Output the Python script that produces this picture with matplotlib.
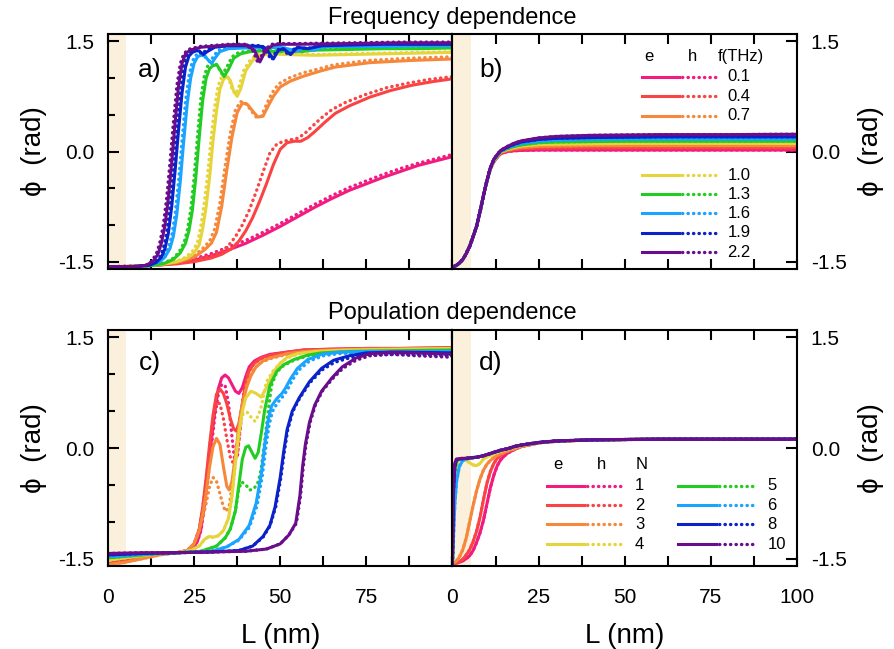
import numpy as np
import matplotlib
matplotlib.use("Agg")
import matplotlib.pyplot as plt

plt.rcParams['font.family'] = ['Liberation Sans', 'DejaVu Sans']
plt.rcParams['axes.unicode_minus'] = False

freqs = ['0.1', '0.4', '0.7', '1.0', '1.3', '1.6', '1.9', '2.2']
pops = ['1', '2', '3', '4', '5', '6', '8', '10']
colors = ['#f21b7f', '#fa4343', '#f5883a', '#e6d43c', '#22cc22', '#1aa3ff', '#0a22c8', '#6a0d8c']

# ---- a) frequency dependence, electrons (solid) ----
a_e_L = [
    [0, 5, 10, 15, 20, 25, 30, 35, 40, 45, 50, 55, 60, 65, 70, 75, 80, 85, 90, 95, 100],
    [0, 10, 20, 25, 30, 33, 36, 38, 40, 42, 44, 46, 48, 50, 52, 54, 56, 58, 60, 63, 66, 70, 76, 82, 88, 94, 100],
    [0, 10, 15, 20, 25, 28, 30, 31.5, 33, 34.5, 36, 37.5, 39, 40.5, 42, 43.5, 45, 46.5, 48, 50, 53, 57, 62, 66, 76, 88, 100],
    [0, 10, 15, 20, 23, 25, 26.5, 27.5, 28.5, 29.5, 30.5, 31.5, 32.5, 33.5, 34.5, 35.5, 36.5, 37.5, 38.5, 40, 42, 44, 47, 52, 60, 70, 80, 90, 100],
    [0, 8, 12, 16, 19, 21, 22.5, 23.5, 24.5, 25.5, 26.5, 27.5, 28.5, 29.5, 30.5, 31.6, 32.7, 33.7, 35, 36.5, 38.5, 41.3, 45, 50, 53, 56, 60, 70, 80, 90, 100],
    [0, 8, 12, 15, 16.5, 18, 19, 20, 21, 22, 23, 24, 25, 26, 27, 28.2, 29, 30.1, 31.2, 32.5, 35, 40, 45, 50, 55, 57, 60, 62, 65, 70, 80, 90, 100],
    [0, 8, 12, 14, 15.5, 16.5, 17.5, 18.5, 19.5, 20.5, 21.5, 22.5, 23.5, 24.5, 25.5, 26.5, 27.7, 28.8, 31, 35, 40, 45, 46.5, 48, 49.5, 51, 53, 55, 58, 62, 70, 80, 100],
    [0, 8, 11, 13, 14.5, 15.5, 16.5, 17.5, 18.5, 19.5, 20.5, 21.5, 22.5, 23.8, 27, 35, 40, 42.5, 44.1, 45.8, 48, 50, 55, 70, 85, 100],
]
a_e_phi = [
    [-1.57, -1.57, -1.56, -1.545, -1.52, -1.48, -1.42, -1.34, -1.25, -1.14, -1.02, -0.89, -0.76, -0.64, -0.53, -0.44, -0.35, -0.27, -0.19, -0.13, -0.07],
    [-1.57, -1.56, -1.53, -1.50, -1.45, -1.40, -1.32, -1.22, -1.08, -0.90, -0.68, -0.44, -0.18, 0.03, 0.12, 0.14, 0.14, 0.19, 0.27, 0.40, 0.52, 0.62, 0.74, 0.83, 0.90, 0.95, 0.99],
    [-1.57, -1.56, -1.54, -1.51, -1.44, -1.34, -1.25, -1.10, -0.75, -0.25, 0.20, 0.53, 0.66, 0.64, 0.55, 0.47, 0.48, 0.62, 0.75, 0.88, 0.96, 1.03, 1.10, 1.15, 1.21, 1.24, 1.26],
    [-1.57, -1.56, -1.54, -1.50, -1.45, -1.38, -1.27, -1.05, -0.75, -0.35, 0.15, 0.55, 0.85, 0.98, 1.02, 0.97, 0.82, 0.75, 0.85, 1.10, 1.24, 1.31, 1.33, 1.32, 1.31, 1.32, 1.33, 1.34, 1.35],
    [-1.57, -1.565, -1.555, -1.53, -1.47, -1.38, -1.25, -1.08, -0.80, -0.35, 0.20, 0.70, 1.00, 1.13, 1.17, 1.18, 1.10, 1.02, 1.12, 1.27, 1.33, 1.36, 1.37, 1.36, 1.38, 1.36, 1.38, 1.39, 1.40, 1.40, 1.41],
    [-1.57, -1.565, -1.55, -1.50, -1.44, -1.32, -1.15, -0.85, -0.40, 0.15, 0.65, 1.00, 1.20, 1.29, 1.31, 1.30, 1.25, 1.20, 1.28, 1.36, 1.40, 1.41, 1.41, 1.42, 1.37, 1.41, 1.38, 1.42, 1.43, 1.43, 1.43, 1.44, 1.44],
    [-1.57, -1.565, -1.55, -1.51, -1.44, -1.33, -1.12, -0.75, -0.25, 0.30, 0.80, 1.15, 1.30, 1.35, 1.37, 1.37, 1.32, 1.36, 1.42, 1.44, 1.44, 1.43, 1.36, 1.26, 1.38, 1.40, 1.32, 1.42, 1.40, 1.44, 1.45, 1.46, 1.46],
    [-1.57, -1.565, -1.55, -1.50, -1.40, -1.25, -1.02, -0.65, -0.15, 0.40, 0.90, 1.20, 1.33, 1.38, 1.42, 1.45, 1.45, 1.38, 1.22, 1.38, 1.45, 1.46, 1.46, 1.47, 1.48, 1.48],
]
# ---- a) holes (dotted) ----
a_h_L = [
    [0, 5, 10, 15, 20, 25, 30, 35, 40, 45, 50, 55, 60, 65, 70, 75, 80, 85, 90, 95, 100],
    [0, 10, 20, 25, 30, 33, 35, 37, 39, 41, 43, 45, 47, 49, 51, 53, 55, 57, 59, 62, 65, 69, 75, 81, 87, 93, 100],
    [0, 10, 15, 20, 25, 27.5, 29.5, 31, 32.5, 34, 35.5, 37, 38.5, 40, 41.5, 43, 44.5, 46, 47.5, 49.5, 52.5, 56.5, 61.5, 65.5, 75.5, 87.5, 100],
    [0, 10, 15, 20, 22.5, 24.5, 26, 27, 28, 29, 30, 31, 32, 33, 34, 35, 36, 37, 38, 39.5, 41.5, 43.5, 46.5, 52, 60, 70, 80, 90, 100],
    [0, 8, 12, 15.5, 18.5, 20.5, 22, 23, 24, 25, 26, 27, 28, 29, 30, 31.1, 32.2, 33.2, 34.5, 36, 38, 41, 45, 50, 53, 56, 60, 70, 80, 90, 100],
    [0, 8, 12, 14.5, 16, 17.5, 18.5, 19.5, 20.5, 21.5, 22.5, 23.5, 24.5, 25.5, 26.5, 27.7, 28.5, 29.6, 30.7, 32, 34.5, 40, 45, 50, 54.5, 56.5, 59.5, 61.5, 65, 70, 80, 90, 100],
    [0, 8, 11.5, 13.5, 15, 16, 17, 18, 19, 20, 21, 22, 23, 24, 25, 26, 27.2, 28.3, 30.5, 35, 40, 44.5, 46, 47.5, 49, 50.5, 52.5, 54.5, 57.5, 61.5, 70, 80, 100],
    [0, 8, 11, 12.5, 14, 15, 16, 17, 18, 19, 20, 21, 22, 23.3, 26.5, 35, 40, 42, 43.6, 45.3, 47.5, 50, 55, 70, 85, 100],
]
a_h_phi = [
    [-1.57, -1.565, -1.555, -1.535, -1.505, -1.46, -1.39, -1.30, -1.21, -1.10, -0.98, -0.85, -0.72, -0.60, -0.49, -0.40, -0.31, -0.23, -0.16, -0.10, -0.04],
    [-1.57, -1.555, -1.52, -1.48, -1.42, -1.36, -1.28, -1.16, -1.00, -0.80, -0.55, -0.28, -0.02, 0.10, 0.14, 0.16, 0.18, 0.24, 0.33, 0.46, 0.57, 0.67, 0.78, 0.87, 0.93, 0.98, 1.02],
    [-1.57, -1.555, -1.535, -1.50, -1.42, -1.32, -1.22, -1.05, -0.70, -0.20, 0.25, 0.57, 0.68, 0.66, 0.56, 0.47, 0.48, 0.64, 0.79, 0.92, 1.00, 1.07, 1.13, 1.18, 1.24, 1.27, 1.29],
    [-1.57, -1.555, -1.535, -1.49, -1.44, -1.36, -1.24, -1.00, -0.68, -0.28, 0.22, 0.62, 0.90, 1.02, 1.06, 1.00, 0.85, 0.78, 0.88, 1.12, 1.26, 1.32, 1.34, 1.33, 1.32, 1.33, 1.34, 1.35, 1.36],
    [-1.57, -1.565, -1.555, -1.53, -1.47, -1.38, -1.25, -1.08, -0.80, -0.35, 0.22, 0.74, 1.04, 1.17, 1.20, 1.21, 1.13, 1.05, 1.15, 1.29, 1.35, 1.37, 1.38, 1.37, 1.39, 1.37, 1.39, 1.40, 1.41, 1.41, 1.42],
    [-1.57, -1.565, -1.55, -1.50, -1.44, -1.32, -1.15, -0.85, -0.40, 0.15, 0.68, 1.03, 1.23, 1.31, 1.33, 1.32, 1.27, 1.22, 1.30, 1.38, 1.41, 1.42, 1.42, 1.43, 1.36, 1.42, 1.37, 1.43, 1.44, 1.44, 1.44, 1.45, 1.45],
    [-1.57, -1.565, -1.55, -1.51, -1.44, -1.33, -1.12, -0.75, -0.25, 0.30, 0.82, 1.17, 1.32, 1.36, 1.38, 1.38, 1.33, 1.37, 1.43, 1.45, 1.45, 1.44, 1.35, 1.25, 1.38, 1.41, 1.31, 1.42, 1.40, 1.44, 1.46, 1.47, 1.47],
    [-1.57, -1.565, -1.55, -1.50, -1.40, -1.25, -1.02, -0.65, -0.15, 0.40, 0.90, 1.20, 1.33, 1.39, 1.43, 1.46, 1.46, 1.38, 1.20, 1.38, 1.46, 1.47, 1.47, 1.48, 1.49, 1.49],
]

# ---- b) frequency dependence, second case (e and h overlap) ----
b_L = [0, 1, 2, 3, 4, 5, 6, 7, 8, 9, 10, 11, 12, 13, 14, 16, 18, 20, 25, 30, 40, 50, 60, 70, 80, 90, 100]
b_e_phi = [
    [-1.57, -1.555, -1.52, -1.47, -1.39, -1.29, -1.16, -1.02, -0.82, -0.60, -0.40, -0.24, -0.14, -0.08, -0.03, 0.0, 0.01, 0.015, 0.02, 0.02, 0.02, 0.02, 0.02, 0.02, 0.02, 0.02, 0.02],
    [-1.57, -1.555, -1.52, -1.47, -1.39, -1.29, -1.16, -1.02, -0.82, -0.60, -0.40, -0.24, -0.135, -0.075, -0.02, 0.01, 0.025, 0.035, 0.045, 0.05, 0.05, 0.05, 0.05, 0.05, 0.05, 0.05, 0.05],
    [-1.57, -1.555, -1.52, -1.47, -1.39, -1.29, -1.16, -1.02, -0.82, -0.60, -0.40, -0.24, -0.13, -0.07, -0.01, 0.02, 0.04, 0.055, 0.07, 0.075, 0.08, 0.08, 0.08, 0.08, 0.08, 0.08, 0.08],
    [-1.57, -1.555, -1.52, -1.47, -1.39, -1.29, -1.16, -1.02, -0.82, -0.60, -0.40, -0.235, -0.125, -0.065, -0.005, 0.03, 0.055, 0.075, 0.095, 0.10, 0.105, 0.11, 0.11, 0.11, 0.11, 0.11, 0.11],
    [-1.57, -1.555, -1.52, -1.47, -1.39, -1.29, -1.16, -1.02, -0.82, -0.60, -0.40, -0.23, -0.12, -0.06, 0.0, 0.04, 0.07, 0.09, 0.12, 0.13, 0.135, 0.14, 0.14, 0.14, 0.14, 0.14, 0.14],
    [-1.57, -1.555, -1.52, -1.47, -1.39, -1.29, -1.16, -1.02, -0.82, -0.60, -0.40, -0.23, -0.115, -0.05, 0.005, 0.05, 0.085, 0.11, 0.14, 0.155, 0.165, 0.17, 0.17, 0.17, 0.17, 0.17, 0.17],
    [-1.57, -1.555, -1.52, -1.47, -1.39, -1.29, -1.16, -1.02, -0.82, -0.60, -0.40, -0.225, -0.11, -0.045, 0.01, 0.06, 0.10, 0.13, 0.165, 0.18, 0.19, 0.195, 0.20, 0.20, 0.20, 0.20, 0.20],
    [-1.57, -1.555, -1.52, -1.47, -1.39, -1.29, -1.16, -1.02, -0.82, -0.60, -0.40, -0.22, -0.105, -0.04, 0.015, 0.07, 0.115, 0.145, 0.185, 0.205, 0.22, 0.225, 0.23, 0.23, 0.23, 0.233, 0.235],
]
b_h_phi = b_e_phi

# ---- c) population dependence, electrons ----
c_e_L = [
    [0, 5, 10, 15, 20, 23, 25, 26, 27, 28, 29, 30, 31, 32, 33, 34, 35, 36, 37, 38, 39, 40, 41, 42.5, 44.5, 47, 52, 57, 65, 75, 85, 100],
    [0, 5, 10, 15, 20, 23, 25, 26.5, 27.5, 28.5, 29.5, 30.5, 31.5, 32.5, 33.5, 34.5, 35.5, 36.5, 37.2, 38, 39, 40, 41, 42.5, 44.5, 47, 52, 57, 65, 75, 85, 100],
    [0, 5, 10, 15, 20, 23, 25, 26.5, 27.5, 28.5, 29.5, 30.5, 31.5, 32.5, 33.5, 34.5, 35.2, 36, 37, 38, 39, 40.3, 41.5, 43, 45, 47, 52, 57, 65, 75, 85, 100],
    [0, 5, 10, 15, 20, 24, 26.5, 28, 29.3, 30.5, 32, 33.5, 35, 36, 37, 38, 39, 40, 41.5, 43, 44.5, 46, 48, 50, 52, 55, 60, 70, 85, 100],
    [0, 5, 10, 15, 20, 27, 31.5, 34, 35.5, 37, 38, 39, 40, 40.8, 41.8, 42.7, 43.6, 44.5, 45.5, 47, 49, 51, 54, 58, 62, 70, 85, 100],
    [0, 5, 10, 15, 20, 30, 34.5, 38, 41, 43, 44.5, 45.5, 46.5, 47.5, 49, 50.5, 51.5, 53, 55, 58, 62, 67, 75, 85, 100],
    [0, 10, 20, 30, 38, 42, 45, 47, 48.5, 50, 51, 52, 53.5, 55.5, 58.5, 62, 65.5, 70, 75, 85, 100],
    [0, 10, 20, 30, 40, 46, 50, 52.5, 54.5, 55.7, 56.5, 57.3, 58.5, 60, 62, 65, 68, 72, 76, 82, 90, 100],
]
c_e_phi = [
    [-1.57, -1.53, -1.48, -1.44, -1.42, -1.40, -1.34, -1.26, -1.10, -0.75, -0.35, 0.10, 0.50, 0.80, 0.95, 0.99, 0.95, 0.86, 0.77, 0.74, 0.82, 0.97, 1.10, 1.18, 1.23, 1.27, 1.30, 1.33, 1.34, 1.35, 1.35, 1.36],
    [-1.57, -1.52, -1.47, -1.43, -1.42, -1.39, -1.30, -1.10, -0.80, -0.40, 0.05, 0.45, 0.73, 0.80, 0.74, 0.60, 0.40, 0.26, 0.23, 0.33, 0.60, 0.88, 1.05, 1.15, 1.22, 1.26, 1.30, 1.33, 1.34, 1.35, 1.35, 1.36],
    [-1.58, -1.55, -1.50, -1.45, -1.42, -1.39, -1.30, -1.12, -0.90, -0.60, -0.25, 0.02, 0.13, 0.05, -0.25, -0.52, -0.57, -0.45, -0.10, 0.30, 0.60, 0.83, 0.98, 1.10, 1.18, 1.22, 1.28, 1.31, 1.33, 1.34, 1.34, 1.35],
    [-1.52, -1.49, -1.46, -1.43, -1.42, -1.39, -1.33, -1.24, -1.20, -1.21, -1.19, -1.12, -0.95, -0.65, -0.20, 0.20, 0.50, 0.68, 0.77, 0.74, 0.69, 0.82, 1.03, 1.15, 1.23, 1.28, 1.31, 1.33, 1.34, 1.35],
    [-1.49, -1.47, -1.45, -1.43, -1.42, -1.40, -1.33, -1.22, -1.10, -0.85, -0.50, -0.15, 0.01, 0.03, -0.06, -0.14, -0.06, 0.20, 0.52, 0.85, 1.04, 1.13, 1.20, 1.26, 1.29, 1.31, 1.32, 1.33],
    [-1.47, -1.46, -1.44, -1.43, -1.42, -1.40, -1.34, -1.24, -1.05, -0.75, -0.35, 0.05, 0.38, 0.57, 0.67, 0.74, 0.81, 0.94, 1.08, 1.20, 1.27, 1.30, 1.31, 1.31, 1.31],
    [-1.45, -1.43, -1.42, -1.41, -1.39, -1.33, -1.20, -1.05, -0.80, -0.40, -0.05, 0.25, 0.50, 0.68, 0.90, 1.08, 1.19, 1.25, 1.29, 1.30, 1.29],
    [-1.43, -1.42, -1.42, -1.41, -1.40, -1.37, -1.30, -1.18, -1.02, -0.65, -0.25, 0.05, 0.35, 0.58, 0.77, 0.95, 1.10, 1.22, 1.28, 1.30, 1.29, 1.27],
]
# ---- c) holes ----
c_h_L = [
    [0, 5, 10, 15, 20, 23, 25, 26, 27, 28, 29, 30, 31, 32, 33, 34, 35, 36, 36.8, 37.6, 38.5, 39.5, 40.5, 41.5, 43, 45, 48, 52, 57, 65, 75, 85, 100],
    [0, 5, 10, 15, 20, 23, 25, 26.5, 27.5, 28.5, 29.5, 30.5, 31.5, 32.5, 33.5, 34.5, 35.5, 36.5, 37.5, 38.5, 39.5, 40.5, 42, 44, 47, 52, 57, 65, 75, 85, 100],
    [0, 5, 10, 15, 20, 23, 25, 26.5, 27.5, 28.5, 29.5, 30.5, 31.5, 32.5, 33.5, 34.3, 35.2, 36.2, 37.2, 38.3, 39.5, 40.5, 42, 44, 47, 52, 57, 65, 75, 85, 100],
    [0, 5, 10, 15, 20, 24, 26.5, 28, 29.3, 30.5, 32, 33.5, 35, 36, 37, 38, 39, 40.3, 41.5, 42.7, 43.7, 44.6, 46, 48, 50, 52, 55, 60, 70, 85, 100],
    [0, 5, 10, 15, 20, 27, 31.5, 34, 35.5, 37, 38, 38.8, 40, 41.2, 42.4, 43.6, 44.4, 45.1, 45.9, 46.6, 47.5, 49, 51, 54, 58, 62, 70, 85, 100],
    [0, 5, 10, 15, 20, 30, 34.5, 38, 41, 43.3, 44.8, 45.8, 46.8, 47.8, 49.3, 50.8, 52, 53.5, 55.5, 58.5, 62.5, 67, 75, 85, 100],
    [0, 10, 20, 30, 38, 42, 45, 47, 48.7, 50.2, 51.2, 52.2, 53.7, 55.7, 58.7, 62.2, 65.7, 70, 75, 85, 100],
    [0, 10, 20, 30, 40, 46, 50, 52.5, 54.7, 55.9, 56.7, 57.5, 58.7, 60.2, 62.2, 65.2, 68.2, 72, 76, 82, 90, 100],
]
c_h_phi = [
    [-1.57, -1.53, -1.48, -1.44, -1.42, -1.40, -1.34, -1.26, -1.12, -0.80, -0.42, 0.02, 0.42, 0.72, 0.86, 0.85, 0.60, 0.15, -0.18, -0.10, 0.35, 0.80, 1.02, 1.12, 1.18, 1.23, 1.26, 1.29, 1.31, 1.32, 1.32, 1.31, 1.30],
    [-1.57, -1.52, -1.47, -1.43, -1.42, -1.39, -1.30, -1.10, -0.82, -0.45, -0.02, 0.38, 0.62, 0.60, 0.40, 0.12, -0.12, -0.22, -0.10, 0.30, 0.75, 1.00, 1.12, 1.20, 1.25, 1.29, 1.31, 1.32, 1.32, 1.31, 1.30],
    [-1.58, -1.55, -1.50, -1.45, -1.42, -1.39, -1.30, -1.12, -0.95, -0.75, -0.52, -0.40, -0.45, -0.62, -0.80, -0.86, -0.78, -0.45, -0.02, 0.38, 0.70, 0.90, 1.05, 1.15, 1.21, 1.27, 1.30, 1.32, 1.32, 1.31, 1.30],
    [-1.52, -1.49, -1.46, -1.43, -1.42, -1.39, -1.33, -1.24, -1.20, -1.21, -1.19, -1.12, -0.95, -0.65, -0.20, 0.20, 0.45, 0.49, 0.42, 0.36, 0.45, 0.58, 0.90, 1.05, 1.15, 1.22, 1.27, 1.30, 1.32, 1.32, 1.31],
    [-1.49, -1.47, -1.45, -1.43, -1.42, -1.40, -1.33, -1.22, -1.10, -0.85, -0.55, -0.46, -0.50, -0.57, -0.55, -0.46, -0.30, -0.05, 0.25, 0.54, 0.85, 1.03, 1.12, 1.19, 1.25, 1.28, 1.30, 1.30, 1.30],
    [-1.47, -1.46, -1.44, -1.43, -1.42, -1.40, -1.34, -1.25, -1.08, -0.78, -0.38, 0.0, 0.32, 0.50, 0.62, 0.70, 0.78, 0.92, 1.06, 1.18, 1.25, 1.28, 1.29, 1.29, 1.28],
    [-1.45, -1.43, -1.42, -1.41, -1.39, -1.33, -1.21, -1.06, -0.80, -0.40, -0.05, 0.25, 0.50, 0.68, 0.89, 1.06, 1.16, 1.22, 1.26, 1.27, 1.25],
    [-1.43, -1.42, -1.42, -1.41, -1.40, -1.37, -1.30, -1.18, -1.02, -0.65, -0.25, 0.05, 0.35, 0.58, 0.77, 0.94, 1.08, 1.19, 1.25, 1.27, 1.25, 1.23],
]

# ---- d) population dependence, second case (e and h overlap) ----
d_L = [0, 0.3, 0.7, 1.2, 2, 3, 4, 5, 6, 7, 8, 9, 10, 11, 12, 13, 14, 15, 16, 18, 20, 25, 30, 40, 50, 60, 70, 80, 90, 100]
d_e_phi = [
    [-1.57, -1.57, -1.565, -1.56, -1.55, -1.53, -1.50, -1.46, -1.39, -1.28, -1.15, -0.98, -0.76, -0.54, -0.37, -0.24, -0.16, -0.11, -0.07, -0.02, 0.02, 0.07, 0.09, 0.11, 0.115, 0.12, 0.12, 0.12, 0.12, 0.12],
    [-1.57, -1.57, -1.565, -1.56, -1.54, -1.51, -1.45, -1.38, -1.27, -1.13, -0.94, -0.70, -0.48, -0.32, -0.21, -0.14, -0.10, -0.07, -0.05, -0.01, 0.02, 0.07, 0.09, 0.11, 0.115, 0.12, 0.12, 0.12, 0.12, 0.12],
    [-1.57, -1.56, -1.55, -1.53, -1.48, -1.38, -1.22, -1.00, -0.78, -0.58, -0.42, -0.30, -0.22, -0.17, -0.13, -0.10, -0.08, -0.06, -0.04, -0.01, 0.02, 0.07, 0.09, 0.11, 0.115, 0.12, 0.12, 0.12, 0.12, 0.12],
    [-1.57, -0.90, -0.40, -0.22, -0.16, -0.15, -0.17, -0.20, -0.23, -0.24, -0.21, -0.15, -0.12, -0.10, -0.08, -0.06, -0.045, -0.03, -0.02, 0.01, 0.035, 0.07, 0.09, 0.11, 0.115, 0.12, 0.12, 0.12, 0.12, 0.12],
    [-1.57, -0.80, -0.30, -0.17, -0.15, -0.145, -0.14, -0.135, -0.13, -0.125, -0.115, -0.105, -0.09, -0.075, -0.06, -0.045, -0.03, -0.02, -0.01, 0.02, 0.04, 0.075, 0.095, 0.11, 0.115, 0.12, 0.12, 0.12, 0.12, 0.12],
    [-1.57, -1.20, -0.75, -0.45, -0.25, -0.17, -0.15, -0.14, -0.13, -0.125, -0.115, -0.105, -0.09, -0.075, -0.06, -0.045, -0.03, -0.02, -0.01, 0.02, 0.04, 0.075, 0.095, 0.11, 0.115, 0.12, 0.12, 0.12, 0.12, 0.12],
    [-1.57, -0.60, -0.25, -0.16, -0.15, -0.145, -0.14, -0.135, -0.13, -0.125, -0.115, -0.105, -0.09, -0.075, -0.06, -0.045, -0.03, -0.02, -0.01, 0.02, 0.04, 0.075, 0.095, 0.11, 0.115, 0.12, 0.12, 0.12, 0.12, 0.12],
    [-1.57, -0.50, -0.20, -0.15, -0.145, -0.14, -0.14, -0.135, -0.13, -0.125, -0.115, -0.105, -0.09, -0.075, -0.06, -0.045, -0.03, -0.02, -0.01, 0.02, 0.04, 0.075, 0.095, 0.11, 0.115, 0.12, 0.12, 0.12, 0.12, 0.12],
]
d_h_phi = d_e_phi

SOLID_LW = 2.2
DOT_LW = 2.4
DOTS = (0, (0.1, 1.55))


def draw_curves(ax, Le, pe, Lh, ph):
    for i in range(len(colors)):
        ax.plot(Le[i], pe[i], color=colors[i], lw=SOLID_LW, solid_capstyle='round', solid_joinstyle='round')
        ax.plot(Lh[i], ph[i], color=colors[i], lw=DOT_LW, ls=DOTS, dash_capstyle='round')


def style_axes(ax, side, xlabels):
    ax.set_xlim(0, 100)
    ax.set_ylim(-1.6, 1.6)
    ax.axvspan(0, 5.3, color='#faf0dc', lw=0, zorder=0)
    for s in ax.spines.values():
        s.set_linewidth(1.5)
        s.set_zorder(5)
    xt = np.arange(0, 100.1, 12.5)
    ax.set_xticks(xt)
    if xlabels is None:
        ax.set_xticklabels([''] * len(xt))
    else:
        ax.set_xticklabels([('%d' % v if (v % 25 == 0 and v in xlabels) else '') for v in xt])
    ax.tick_params(axis='x', which='both', direction='in', top=True, bottom=True,
                   length=7, width=1.5, labelsize=15, pad=15.5)
    ax.set_yticks([-1.5, 0.0, 1.5])
    ax.set_yticklabels(['-1.5', '0.0', '1.5'])
    if side == 'left':
        ax.set_yticks(np.arange(-1.5, 1.51, 0.5), minor=True)
        ax.tick_params(axis='y', which='major', direction='in', left=True, right=False,
                       length=8, width=1.5, labelsize=15, pad=10)
        ax.tick_params(axis='y', which='minor', direction='in', left=True, right=False,
                       length=5, width=1.5)
        ax.set_ylabel('ϕ  (rad)', fontsize=20, labelpad=8)
    else:
        ax.tick_params(axis='y', which='major', direction='in', left=False, right=True,
                       labelleft=False, labelright=True,
                       length=8, width=1.5, labelsize=15, pad=10)
        ax.yaxis.set_label_position('right')
        ax.set_ylabel('ϕ  (rad)', fontsize=20, labelpad=8)
    if xlabels is not None:
        ax.set_xlabel('L (nm)', fontsize=20, labelpad=12)


fig = plt.figure(figsize=(8.94, 6.49), dpi=100)
W = 0.3853
ax_a = fig.add_axes([0.1208, 0.5855, W, 0.3621])
ax_b = fig.add_axes([0.1208 + W, 0.5855, W, 0.3621])
ax_c = fig.add_axes([0.1208, 0.1279, W, 0.3636])
ax_d = fig.add_axes([0.1208 + W, 0.1279, W, 0.3636])

draw_curves(ax_a, a_e_L, a_e_phi, a_h_L, a_h_phi)
draw_curves(ax_b, [b_L] * 8, b_e_phi, [b_L] * 8, b_h_phi)
draw_curves(ax_c, c_e_L, c_e_phi, c_h_L, c_h_phi)
draw_curves(ax_d, [d_L] * 8, d_e_phi, [d_L] * 8, d_h_phi)

style_axes(ax_a, 'left', None)
style_axes(ax_b, 'right', None)
style_axes(ax_c, 'left', [0, 25, 50, 75])
style_axes(ax_d, 'right', [0, 25, 50, 75, 100])

for ax, lab, x0 in [(ax_a, 'a)', 0.122), (ax_b, 'b)', 0.112), (ax_c, 'c)', 0.122), (ax_d, 'd)', 0.112)]:
    ax.text(x0, 0.845 if ax in (ax_a, ax_b) else 0.86, lab, transform=ax.transAxes,
            fontsize=19, ha='center', va='center')

# legend in b
tb = ax_b.transAxes
ax_b.text(0.569, 0.903, 'e', transform=tb, fontsize=12, ha='center', va='center')
ax_b.text(0.696, 0.903, 'h', transform=tb, fontsize=12, ha='center', va='center')
ax_b.text(0.836, 0.903, 'f(THz)', transform=tb, fontsize=12, ha='center', va='center')
rows_b = [0.818, 0.736, 0.652, 0.400, 0.319, 0.237, 0.154, 0.072]
for i, yy in enumerate(rows_b):
    ax_b.plot([0.5515, 0.659], [yy, yy], transform=tb, color=colors[i], lw=SOLID_LW, clip_on=False)
    ax_b.plot([0.667, 0.769], [yy, yy], transform=tb, color=colors[i], lw=DOT_LW, ls=DOTS,
              dash_capstyle='round', clip_on=False)
    ax_b.text(0.798, yy, freqs[i], transform=tb, fontsize=12, ha='left', va='center')

# legend in d
td = ax_d.transAxes
ax_d.text(0.306, 0.428, 'e', transform=td, fontsize=12, ha='center', va='center')
ax_d.text(0.432, 0.428, 'h', transform=td, fontsize=12, ha='center', va='center')
ax_d.text(0.548, 0.428, 'N', transform=td, fontsize=12, ha='center', va='center')
rows_d = [0.340, 0.258, 0.177, 0.093]
for i in range(8):
    yy = rows_d[i % 4]
    if i < 4:
        x1, x2, x3, tx, ha = 0.275, 0.383, 0.490, 0.543, 'center'
    else:
        x1, x2, x3, tx, ha = 0.656, 0.765, 0.872, 0.914, 'left'
    ax_d.plot([x1, x2], [yy, yy], transform=td, color=colors[i], lw=SOLID_LW)
    ax_d.plot([x2 + 0.008, x3], [yy, yy], transform=td, color=colors[i], lw=DOT_LW, ls=DOTS,
              dash_capstyle='round')
    ax_d.text(tx, yy, pops[i], transform=td, fontsize=12, ha=ha, va='center')

fig.text(0.506, 0.972, 'Frequency dependence', fontsize=17, ha='center', va='center')
fig.text(0.506, 0.518, 'Population dependence', fontsize=17, ha='center', va='center')

fig.savefig('out.png', dpi=100)
